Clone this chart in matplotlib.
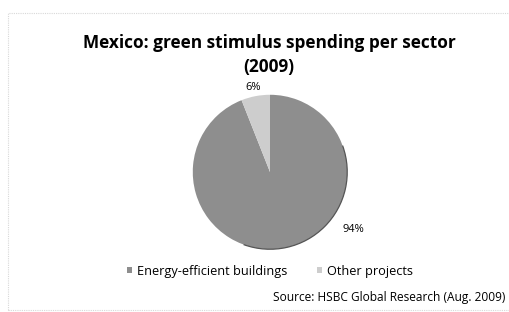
import matplotlib.pyplot as plt
from matplotlib.patches import Rectangle, Arc

# data
sectors = ['Energy-efficient buildings', 'Other projects']
shares = [94, 6]
pct_labels = ['94%', '6%']
colors = ['#8e8e8e', '#cdcdcd']

plt.rcParams['font.family'] = ['Open Sans', 'DejaVu Sans']

W, H = 509, 312
fig = plt.figure(figsize=(W/100, H/100), dpi=100)
fig.patch.set_facecolor('white')

def fx(x):
    return x / W

def fy(y):
    return 1 - y / H

# faint chart border
fig.patches.append(Rectangle((fx(8), fy(310)), 1, 297/H, transform=fig.transFigure,
                             fill=False, ec='#d8d8d8', lw=0.8, ls=(0, (1, 1))))

# pie: center ~ (270,172) px, radius ~78 px
r = 78
cx, cy = 270, 172
ax = fig.add_axes([fx(cx-r), fy(cy+r), 2*r/W, 2*r/H])
wedges, _ = ax.pie(shares, colors=colors, startangle=90, counterclock=False,
                   wedgeprops=dict(lw=0))
ax.set_aspect('auto')
ax.set_xlim(-1.01, 1.01); ax.set_ylim(-1.01, 1.01)
# darker rim on the lower right
ax.add_patch(Arc((0, 0), 2, 2, theta1=-110, theta2=20, color='#555555', lw=0.9))

fig.text(fx(353), fy(230), pct_labels[0], fontsize=8, ha='center', va='center')
fig.text(fx(253), fy(87), pct_labels[1], fontsize=8, ha='center', va='center')

fig.text(fx(269), fy(43), 'Mexico: green stimulus spending per sector',
         fontsize=12.4, fontweight='bold', ha='center', va='center')
fig.text(fx(269), fy(67), '(2009)',
         fontsize=12.4, fontweight='bold', ha='center', va='center')

# legend
leg = fig.legend(wedges, sectors, loc='center', bbox_to_anchor=(fx(270), fy(271)),
                 ncol=2, frameon=False, fontsize=9.2, handlelength=0.4, handleheight=0.4,
                 columnspacing=2.3, handletextpad=0.4)

fig.text(fx(505), fy(297), 'Source: HSBC Global Research (Aug. 2009)',
         fontsize=8.6, ha='right', va='center')

fig.savefig('out.png', dpi=100)
